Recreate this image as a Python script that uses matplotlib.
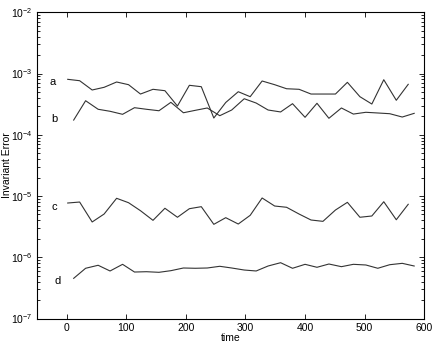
import matplotlib
matplotlib.use('Agg')
import matplotlib.pyplot as plt
from matplotlib.ticker import LogLocator, NullFormatter

plt.rcParams['font.family'] = ['Liberation Sans', 'DejaVu Sans']

# sample times (curves a, c start near 0; b, d are offset by ~10)
time_ac = [2, 22, 43, 63, 84, 104, 124, 145, 165, 186, 206, 226, 247, 267, 288,
           308, 328, 349, 369, 390, 410, 430, 451, 471, 492, 512, 532, 553, 573]
time_bd = [12, 32, 53, 73, 94, 114, 134, 155, 175, 196, 216, 236, 257, 277, 298,
           318, 338, 359, 379, 400, 420, 440, 461, 481, 502, 522, 542, 563, 583]

err_a = [8.05e-4, 7.64e-4, 5.39e-4, 5.96e-4, 7.28e-4, 6.58e-4, 4.63e-4, 5.53e-4,
         5.25e-4, 2.95e-4, 6.43e-4, 6.10e-4, 1.88e-4, 3.37e-4, 5.05e-4, 4.19e-4,
         7.56e-4, 6.58e-4, 5.65e-4, 5.53e-4, 4.63e-4, 4.63e-4, 4.63e-4, 7.19e-4,
         4.19e-4, 3.18e-4, 7.93e-4, 3.66e-4, 6.67e-4]
err_b = [1.74e-4, 3.60e-4, 2.61e-4, 2.42e-4, 2.16e-4, 2.77e-4, 2.61e-4, 2.47e-4,
         3.39e-4, 2.29e-4, 2.51e-4, 2.74e-4, 2.05e-4, 2.54e-4, 3.88e-4, 3.30e-4,
         2.54e-4, 2.36e-4, 3.22e-4, 1.93e-4, 3.27e-4, 1.86e-4, 2.74e-4, 2.18e-4,
         2.33e-4, 2.27e-4, 2.21e-4, 1.95e-4, 2.24e-4]
err_c = [7.69e-6, 7.98e-6, 3.77e-6, 5.08e-6, 9.18e-6, 7.78e-6, 5.76e-6, 4.01e-6,
         6.31e-6, 4.50e-6, 6.21e-6, 6.70e-6, 3.45e-6, 4.43e-6, 3.49e-6, 4.84e-6,
         9.29e-6, 6.87e-6, 6.55e-6, 5.08e-6, 4.06e-6, 3.86e-6, 5.91e-6, 7.89e-6,
         4.50e-6, 4.72e-6, 8.07e-6, 4.10e-6, 7.33e-6]
err_d = [4.53e-7, 6.61e-7, 7.40e-7, 5.97e-7, 7.67e-7, 5.74e-7, 5.81e-7, 5.68e-7,
         6.04e-7, 6.68e-7, 6.61e-7, 6.68e-7, 7.12e-7, 6.68e-7, 6.19e-7, 5.97e-7,
         7.20e-7, 8.15e-7, 6.61e-7, 7.67e-7, 6.86e-7, 7.76e-7, 7.02e-7, 7.67e-7,
         7.48e-7, 6.61e-7, 7.56e-7, 7.96e-7, 7.20e-7]

curve_names = ['a', 'b', 'c', 'd']
name_x = [-24, -20, -20, -15]
name_y = [7.2e-4, 1.8e-4, 6.7e-6, 4.1e-7]

fig = plt.figure(figsize=(4.36, 3.45), dpi=100)
ax = fig.add_axes([0.0842, 0.0768, 0.889, 0.8875])

line_kw = dict(color='#333333', linewidth=0.8)
ax.plot(time_ac, err_a, **line_kw)
ax.plot(time_bd, err_b, **line_kw)
ax.plot(time_ac, err_c, **line_kw)
ax.plot(time_bd, err_d, **line_kw)

for name, x, y in zip(curve_names, name_x, name_y):
    ax.text(x, y, name, fontsize=8, ha='center', va='center', color='black')

ax.set_yscale('log')
ax.set_xlim(-50, 600)
ax.set_ylim(1e-7, 1e-2)
ax.set_xticks([0, 100, 200, 300, 400, 500, 600])
ax.yaxis.set_major_locator(LogLocator(base=10, numticks=10))
ax.yaxis.set_minor_locator(LogLocator(base=10, subs=range(2, 10), numticks=10))
ax.yaxis.set_minor_formatter(NullFormatter())

ax.set_xlabel('time', fontsize=7.5, labelpad=0)
ax.set_ylabel('Invariant Error', fontsize=7.5, va='center')
ax.yaxis.set_label_coords(-0.076, 0.5)

ax.tick_params(which='both', direction='in', top=True, right=True,
               labelsize=7.5, width=0.6, pad=3)
ax.tick_params(which='major', length=3.5)
ax.tick_params(which='minor', length=2)
for spine in ax.spines.values():
    spine.set_linewidth(0.8)

fig.savefig('out.png', dpi=100, facecolor='white')
